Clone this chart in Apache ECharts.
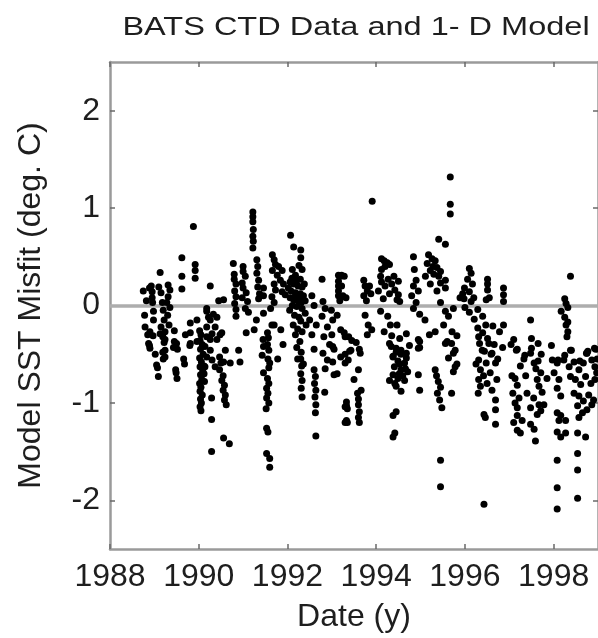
<!DOCTYPE html>
<html><head><meta charset="utf-8">
<script src="https://cdn.jsdelivr.net/npm/echarts@6/dist/echarts.min.js"></script>
<style>html,body{margin:0;padding:0;background:#fff}#c{width:598px;height:638px}</style>
</head><body><div id="c"></div>
<script>
const titleText = 'BATS CTD Data and 1- D Model';
const xName = 'Date (y)';
const yName = 'Model SST Misfit (deg. C)';
const xTicks = [1988,1990,1992,1994,1996,1998];
const yTicks = [-2,-1,0,1,2];

const pts1989 = [
[1988.75,0.15],[1988.78,-0.1],[1988.79,-0.22],[1988.82,0.05],[1988.85,-0.3],
[1988.87,-0.39],[1988.89,0.18],[1988.89,-0.41],[1988.9,-0.44],[1988.9,-0.27],
[1988.93,0.2],[1988.95,0.14],[1988.95,0.08],[1988.96,0.03],[1988.97,-0.31],[1988.98,-0.06],[1988.98,-0.15],
[1989.05,-0.61],[1989.07,-0.64],[1989.09,-0.73],[1989.02,-0.5],
[1989.1,0.19],[1989.13,0.34],[1989.15,0.13],[1989.18,0.03],[1989.2,-0.05],[1989.22,-0.15],[1989.15,-0.22],[1989.13,-0.29],[1989.19,-0.32],[1989.22,-0.38],[1989.19,-0.48],[1989.2,-0.55],
[1989.24,-0.27],[1989.24,-0.35],[1989.24,-0.46],[1989.24,-0.53],
[1989.31,0.21],[1989.35,0.16],[1989.31,0.09],[1989.28,0.03],[1989.35,-0.02],[1989.3,-0.1],[1989.33,-0.2],
[1989.45,-0.26],[1989.45,-0.37],[1989.43,-0.43],[1989.5,-0.39],[1989.52,-0.45],[1989.48,-0.66],[1989.49,-0.69],[1989.51,-0.75],
[1989.62,0.49],[1989.62,0.3],[1989.62,0.17],[1989.92,0.42],[1989.92,0.36],[1989.92,0.28],[1989.88,0.81],
[1989.81,-0.18],[1989.81,-0.28],[1989.81,-0.39],[1989.8,-0.41],[1989.96,-0.15],[1989.96,-0.37],[1989.7,-0.3],[1989.66,-0.55],[1989.68,-0.6]
];
const pts1990 = [
[1990.26,0.2],[1990.56,0.06],[1990.45,0.05],
[1990.18,-0.03],[1990.18,-0.06],[1990.22,-0.12],[1990.26,-0.15],[1990.18,-0.22],[1990.33,-0.09],[1990.41,-0.12],[1990.37,-0.22],[1990.3,-0.29],[1990.18,-0.32],[1990.26,-0.35],[1990.41,-0.35],[1990.14,-0.42],[1990.26,-0.46],[1990.18,-0.53],[1990.3,-0.56],[1990.14,-0.63],[1990.37,-0.63],[1990.48,-0.3],[1990.52,-0.28],[1990.6,-0.46],[1990.56,-0.58],[1990.71,-0.59],[1990.9,-0.46],[1990.93,-0.58],
[1990.02,-0.26],[1990.05,-0.3],[1990.03,-0.36],[1990.08,-0.4],[1990.04,-0.45],[1990.1,-0.5],[1990.02,-0.54],[1990.06,-0.58],[1990.03,-0.63],[1990.09,-0.67],[1990.04,-0.71],[1990.07,-0.76],[1990.02,-0.8],[1990.05,-0.84],[1990.03,-0.88],[1990.08,-0.92],[1990.04,-0.96],[1990.06,-1.0],[1990.03,-1.04],[1990.05,-1.08],[1990.12,-0.62],[1990.13,-0.78],[1990.12,-0.7],
[1990.29,-0.95],[1990.29,-1.17],[1990.29,-1.5],[1990.56,-1.36],[1990.69,-1.42],
[1990.47,-0.53],[1990.5,-0.59],[1990.47,-0.66],[1990.55,-0.72],[1990.52,-0.77],[1990.58,-0.82],[1990.55,-0.87],[1990.6,-0.92],[1990.58,-0.97],[1990.62,-1.02]
];
const pts1991 = [
[1990.78,0.43],[1990.8,0.32],[1990.8,0.27],[1990.84,0.22],[1990.81,0.15],[1990.84,0.09],[1990.81,0.02],[1990.84,-0.04],[1990.84,-0.11],
[1991.0,0.4],[1991.0,0.35],[1991.05,0.3],[1990.98,0.23],[1991.0,0.18],[1991.07,0.13],[1990.98,0.08],[1991.1,0.04],[1991.05,-0.03],[1991.12,-0.07],[1991.07,-0.28],
[1991.22,0.96],[1991.22,0.91],[1991.22,0.86],[1991.23,0.78],[1991.22,0.71],[1991.23,0.66],[1991.22,0.59],
[1991.31,0.47],[1991.33,0.4],[1991.31,0.33],[1991.35,0.26],[1991.33,0.19],[1991.37,0.12],[1991.35,0.07],
[1991.46,0.18],[1991.46,0.1],[1991.46,-0.08],[1991.45,-0.35],[1991.65,-0.2],
[1991.66,0.52],[1991.7,0.47],[1991.73,0.42],[1991.8,0.4],[1991.88,0.36],[1991.66,0.36],[1991.77,0.31],[1991.84,0.26],[1991.91,0.22],[1991.7,0.22],[1991.73,0.16],[1991.88,0.14],[1991.65,0.09],[1991.95,0.11],[1991.7,0.03],[1991.62,-0.03],
[1991.46,-0.42],[1991.43,-0.51],[1991.46,-0.69],[1991.6,-0.59],[1991.53,-0.85],[1991.53,-0.95],[1991.52,-1.06],[1991.53,-1.26],[1991.56,-1.3],[1991.53,-1.52],[1991.6,-1.57],[1991.6,-1.66],
[1991.55,-0.28],[1991.57,-0.33],[1991.55,-0.4],[1991.58,-0.46],[1991.56,-0.55],[1991.58,-0.64],[1991.55,-0.75],[1991.58,-0.8],[1991.56,-0.9],[1991.58,-1.0],
[1991.7,-0.2],[1991.85,-0.25],[1991.9,-0.4],[1991.78,-0.55],[1991.3,-0.15],[1991.25,-0.25]
];
const pts1992 = [
[1992.07,0.72],[1992.14,0.6],[1992.3,0.57],
[1992.3,0.49],[1992.26,0.41],[1992.33,0.37],[1992.11,0.37],[1992.18,0.31],[1992.29,0.27],[1992.06,0.24],[1992.14,0.22],[1992.24,0.2],[1992.33,0.19],[1992.08,0.15],[1992.18,0.13],[1992.29,0.12],[1992.36,0.1],[1992.06,0.08],[1992.14,0.06],[1992.24,0.05],[1992.31,0.03],[1992.11,0.0],[1992.21,-0.01],[1992.33,-0.03],[1992.16,-0.1],[1992.26,-0.12],[1992.13,-0.2],[1992.23,-0.24],[1992.33,-0.27],[1992.18,-0.3],[1992.28,-0.37],[1992.21,-0.43],[1992.31,-0.48],[1992.23,-0.55],[1992.36,-0.6],
[1992.1,0.28],[1992.2,0.25],[1992.38,0.22],[1992.02,0.18],[1992.28,0.08],[1992.4,0.05],[1992.18,0.1],[1992.05,-0.05],[1992.4,-0.08],[1992.3,-0.16],[1992.42,-0.2],
[1992.3,-0.55],[1992.32,-0.62],[1992.3,-0.7],[1992.33,-0.77],[1992.31,-0.85],[1992.33,-0.94],
[1992.6,-0.66],[1992.63,-0.73],[1992.61,-0.8],[1992.64,-0.87],[1992.62,-0.94],[1992.64,-1.02],[1992.63,-1.1],[1992.64,-1.34],
[1992.84,-0.89],
[1992.78,0.27],[1992.8,0.04],[1992.85,-0.03],[1992.78,-0.11],[1992.9,-0.22],[1992.82,-0.32],[1992.95,-0.4],[1992.8,-0.49],[1992.9,-0.56],[1992.85,-0.65],
[1992.55,-0.3],[1992.6,-0.45],[1992.5,-0.15],[1992.65,-0.2],[1992.55,0.1],[1992.6,0.0]
];
const pts1993 = [
[1993.19,0.3],[1993.15,0.31],[1993.22,0.31],[1993.28,0.3],[1993.15,0.25],[1993.15,0.2],[1993.22,0.2],[1993.15,0.15],[1993.15,0.1],[1993.25,0.1],[1993.32,0.08],[1993.18,0.05],
[1993.72,0.26],[1993.75,0.2],[1993.8,0.15],[1993.72,0.1],[1993.78,0.05],[1993.85,0.2],[1993.88,0.12],
[1993.91,1.07],
[1992.99,-0.05],[1993.02,-0.15],[1993.0,-0.3],[1993.05,-0.45],[1993.02,-0.58],
[1993.12,-0.1],[1993.2,-0.25],[1993.28,-0.28],[1993.38,-0.32],[1993.45,-0.36],[1993.55,-0.38],[1993.62,-0.45],[1993.4,-0.47],[1993.3,-0.5],[1993.2,-0.53],
[1993.02,-0.42],[1993.3,-0.32],[1993.37,-0.56],[1993.3,-0.59],[1993.43,-0.46],[1993.5,-0.76],[1993.6,-0.66],[1993.64,-0.49],[1993.05,-0.71],[1993.66,-0.87],[1993.12,-0.7],
[1993.33,-0.99],[1993.33,-1.03],[1993.35,-1.06],[1993.33,-1.18],[1993.35,-1.2],[1993.3,-1.04],[1993.3,-1.2],
[1993.58,-0.9],[1993.6,-0.96],[1993.6,-1.02],[1993.62,-1.09],[1993.6,-1.15],[1993.62,-1.2],
[1993.75,-0.1],[1993.82,-0.2],[1993.8,-0.3],[1993.9,-0.25]
];
const pts1994 = [
[1994.12,0.48],[1994.18,0.46],[1994.25,0.44],[1994.3,0.42],[1994.2,0.4],
[1994.1,0.3],[1994.12,0.24],[1994.2,0.2],[1994.27,0.27],[1994.35,0.22],[1994.42,0.16],[1994.5,0.11],[1994.47,0.06],[1994.3,0.12],[1994.16,0.07],[1994.53,0.04],[1994.12,0.37],[1994.5,0.25],[1994.4,0.3],[1994.05,0.15],
[1994.84,0.5],[1994.86,0.37],[1994.9,0.26],[1994.84,0.2],[1994.95,0.15],[1994.8,0.1],[1994.9,0.03],[1994.84,-0.03],
[1994.1,-0.06],[1994.26,-0.11],[1994.32,-0.2],[1994.47,-0.2],[1994.18,-0.27],[1994.35,-0.31],[1994.53,-0.34],[1994.68,-0.29],[1994.3,-0.39],[1994.45,-0.44],[1994.56,-0.46],[1994.75,-0.41],[1994.38,-0.53],[1994.49,-0.57],[1994.68,-0.54],[1994.98,-0.09],[1994.98,-0.37],[1994.98,-0.43],
[1994.34,-0.42],[1994.45,-0.48],[1994.56,-0.5],[1994.68,-0.49],[1994.38,-0.52],[1994.53,-0.6],[1994.64,-0.59],[1994.41,-0.63],[1994.56,-0.66],[1994.71,-0.68],[1994.38,-0.71],[1994.49,-0.75],[1994.64,-0.77],[1994.45,-0.83],[1994.56,-0.88],[1994.3,-0.77],[1994.6,-0.72],[1994.42,-0.8],[1994.52,-0.7],[1994.66,-0.65],
[1994.38,-1.13],[1994.45,-1.09],[1994.38,-1.35],[1994.42,-1.31],
[1994.95,-0.35],[1994.95,-0.44],[1994.95,-0.71],[1994.98,-0.87]
];
const pts1995 = [
[1995.41,0.68],[1995.56,0.63],[1995.67,1.32],[1995.67,1.04],[1995.67,0.94],
[1995.18,0.52],[1995.26,0.48],[1995.15,0.43],[1995.33,0.46],[1995.37,0.39],[1995.22,0.36],[1995.11,0.3],[1995.3,0.32],[1995.41,0.3],[1995.45,0.23],[1995.22,0.22],[1995.37,0.15],[1995.56,0.26],[1995.56,0.18],[1995.28,0.4],[1995.45,0.35],
[1995.45,0.03],[1995.56,-0.06],[1995.63,-0.11],[1995.74,-0.03],[1995.52,-0.2],[1995.71,-0.27],[1995.82,-0.31],[1995.6,-0.37],[1995.78,-0.46],[1995.63,-0.54],[1995.82,-0.6],[1995.33,-0.27],[1995.1,-0.15],[1995.2,-0.3],
[1995.33,-0.66],[1995.36,-0.72],[1995.4,-0.78],[1995.45,-0.84],[1995.38,-0.9],[1995.43,-0.97],[1995.48,-1.05],[1995.45,-1.59],[1995.45,-1.86],
[1995.7,-0.39],[1995.74,-0.49],[1995.78,-0.63],[1995.74,-0.68],[1995.7,-0.9],[1995.56,-0.39],
[1995.89,0.08],[1995.95,0.12],[1995.99,0.18],[1995.98,0.07]
];
const pts1996 = [
[1996.1,0.38],[1996.14,0.33],[1996.06,0.27],[1996.17,0.22],[1996.1,0.14],[1996.2,0.08],[1996.14,0.04],
[1996.51,0.27],[1996.51,0.22],[1996.51,0.16],[1996.55,0.08],[1996.48,0.06],[1996.87,0.18],[1996.87,0.11],[1996.87,0.04],
[1996.0,-0.02],[1996.1,-0.07],[1996.29,-0.04],[1996.4,-0.11],[1996.21,-0.14],[1996.47,-0.2],[1996.29,-0.23],[1996.63,-0.21],[1996.4,-0.28],[1996.78,-0.27],[1996.51,-0.34],[1996.33,-0.39],[1996.66,-0.4],[1996.85,-0.43],[1996.44,-0.47],[1996.59,-0.5],[1996.74,-0.55],[1996.48,-0.59],[1996.87,-0.2],
[1996.31,-0.32],[1996.39,-0.46],[1996.31,-0.56],[1996.35,-0.66],[1996.31,-0.76],[1996.35,-0.83],[1996.54,-0.39],[1996.61,-0.49],[1996.69,-0.59],[1996.57,-0.69],[1996.72,-0.76],[1996.61,-0.87],[1996.69,-0.97],[1996.69,-1.07],[1996.43,-1.12],[1996.46,-1.15],[1996.69,-1.22],[1996.43,-2.04],
[1996.25,-0.6],[1996.42,-0.72],[1996.5,-0.8],[1996.3,-0.9]
];
const pts1997 = [
[1997.48,-0.15],
[1997.04,-0.4],[1997.16,-0.46],[1997.35,-0.51],[1997.5,-0.44],[1997.65,-0.39],[1997.72,-0.5],[1997.95,-0.41],[1997.5,-0.34],[1997.65,-0.57],
[1997.1,-0.35],[1997.18,-0.45],[1997.06,-0.72],[1997.13,-0.75],[1997.18,-0.82],[1997.25,-0.62],[1997.33,-0.55],[1997.37,-0.72],[1997.48,-0.49],[1997.56,-0.59],[1997.63,-0.76],[1997.71,-0.69],[1997.67,-0.83],[1997.74,-0.89],[1997.78,-1.02],[1997.13,-1.0],[1997.18,-1.05],[1997.18,-1.13],[1997.29,-1.18],[1997.18,-1.28],[1997.25,-1.31],[1997.48,-1.22],[1997.56,-1.27],[1997.59,-1.39],[1997.63,-1.12],[1997.71,-1.08],[1997.67,-1.02],[1997.48,-1.05],
[1997.08,-0.9],[1997.1,-1.2],[1997.22,-0.95],[1997.4,-0.9],[1997.55,-0.95],[1997.6,-0.65],
[1997.97,-0.56],[1997.85,-0.75]
];
const pts1998 = [
[1998.38,0.3],[1998.25,0.07],[1998.28,0.02],[1998.17,-0.06],[1998.32,-0.02],[1998.25,-0.12],[1998.32,-0.17],[1998.28,-0.2],[1998.32,-0.27],
[1998.1,-0.56],[1998.25,-0.51],[1998.4,-0.46],[1998.77,-0.47],[1998.92,-0.44],[1998.74,-0.49],[1998.59,-0.57],
[1998.08,-0.59],[1998.01,-0.69],[1998.12,-0.76],[1998.08,-0.85],[1998.16,-0.93],[1998.08,-1.1],[1998.12,-1.18],[1998.08,-1.3],[1998.16,-1.35],[1998.08,-1.59],[1998.08,-1.87],[1998.08,-2.09],
[1998.3,-0.32],[1998.38,-0.46],[1998.23,-0.56],[1998.35,-0.63],[1998.46,-0.58],[1998.57,-0.66],[1998.67,-0.59],[1998.75,-0.49],[1998.86,-0.56],[1998.93,-0.63],[1998.38,-0.73],[1998.49,-0.76],[1998.61,-0.81],[1998.72,-0.73],[1998.84,-0.8],[1998.46,-0.9],[1998.57,-0.93],[1998.67,-0.98],[1998.79,-0.92],[1998.9,-0.97],[1998.54,-1.03],[1998.65,-1.1],[1998.57,-1.15],[1998.75,-1.07],[1998.86,-1.02],[1998.16,-1.13],[1998.27,-1.18],[1998.27,-1.31],[1998.54,-1.31],[1998.72,-1.35],[1998.54,-1.52],[1998.54,-1.69],[1998.54,-1.98],[1998.93,-0.76],[1998.97,-0.69],
[1998.95,-0.45],[1998.98,-0.55]
];

const allPts = [].concat(pts1989, pts1990, pts1991, pts1992, pts1993, pts1994, pts1995, pts1996, pts1997, pts1998);

const FONT = '"Liberation Sans", Arial, Helvetica, sans-serif';
const AXC = '#9a9a9a';
const TICKC = '#6a6a6a';
const txt = '#1e1e1e';

function boxAxis(extra) {
  return Object.assign({
    type: 'value',
    axisLine: { show: true, onZero: false, lineStyle: { color: AXC, width: 2.5 } },
    splitLine: { show: false },
  }, extra);
}

const chart = echarts.init(document.getElementById('c'), null, { renderer: 'canvas' });
chart.setOption({
  animation: false,
  backgroundColor: '#fff',
  grid: { left: 110, top: 62, width: 489, height: 488, containLabel: false },
  graphic: [{
    type: 'text', x: 356, y: 28, scaleX: 1.25,
    style: { text: titleText, font: '26px "Liberation Sans", Arial, sans-serif', fill: txt,
      textAlign: 'center', textVerticalAlign: 'middle', align: 'center', verticalAlign: 'middle' }
  }],
  xAxis: [
    boxAxis({ min: 1988, max: 1999, position: 'bottom',
      axisTick: { show: true, inside: true, length: 5, customValues: xTicks, lineStyle: { color: TICKC, width: 1.5 } },
      axisLabel: { customValues: xTicks, formatter: v => String(v), fontSize: 32, fontFamily: FONT, color: txt, margin: 12 },
      name: xName, nameLocation: 'middle', nameGap: 52,
      nameTextStyle: { fontSize: 32, fontFamily: FONT, color: txt } }),
    boxAxis({ min: 1988, max: 1999, position: 'top',
      axisTick: { show: true, inside: true, length: 5, customValues: xTicks, lineStyle: { color: TICKC, width: 1.5 } },
      axisLabel: { show: false } })
  ],
  yAxis: [
    boxAxis({ min: -2.5, max: 2.5, position: 'left',
      axisTick: { show: true, inside: true, length: 5, customValues: yTicks, lineStyle: { color: TICKC, width: 1.5 } },
      axisLabel: { customValues: yTicks, fontSize: 32, fontFamily: FONT, color: txt, margin: 10 },
      name: yName, nameLocation: 'middle', nameGap: 63, nameRotate: 90,
      nameTextStyle: { fontSize: 32, fontFamily: FONT, color: txt } }),
    boxAxis({ min: -2.5, max: 2.5, position: 'right',
      axisTick: { show: true, inside: true, length: 5, customValues: yTicks, lineStyle: { color: TICKC, width: 1.5 } },
      axisLabel: { show: false } })
  ],
  series: [{
    type: 'scatter',
    xAxisIndex: 0, yAxisIndex: 0,
    data: allPts,
    symbol: 'circle',
    symbolSize: 7,
    itemStyle: { color: '#000', opacity: 1 },
    z: 3,
    markLine: {
      silent: true, symbol: 'none', label: { show: false }, z: 1,
      lineStyle: { color: '#adadad', width: 3.5, type: 'solid' },
      data: [{ yAxis: 0 }]
    }
  }]
});
</script>
</body></html>
